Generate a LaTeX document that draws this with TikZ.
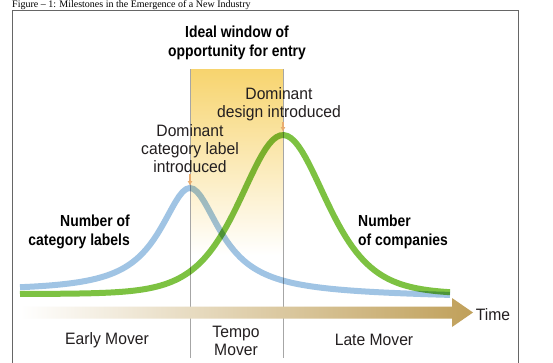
\documentclass[tikz,border=0pt]{standalone}
\usepackage{fontspec}
\setmainfont{Liberation Sans}
\newfontfamily\capfont{Liberation Serif}
\newfontfamily\condfont[FakeStretch=0.95]{Liberation Sans}
\newfontfamily\condbold[FakeStretch=0.87]{Liberation Sans}
\usepackage{tikz}
\usetikzlibrary{arrows.meta}
\definecolor{catblue}{RGB}{160,196,228}
\definecolor{compgreen}{RGB}{125,194,66}
\definecolor{windowgold}{RGB}{247,212,110}
\definecolor{timetan}{RGB}{192,160,90}
\definecolor{peakorange}{RGB}{232,172,112}
\definecolor{inkgray}{RGB}{35,31,32}

\begin{document}
\begin{tikzpicture}[x=1pt, y=-1pt,
  lbl/.style={font=\condfont\fontsize{16.5}{18}\selectfont, text=inkgray, align=center, inner sep=1pt},
  boldlbl/.style={font=\condbold\bfseries\fontsize{16}{19}\selectfont, text=black, inner sep=1pt},
  curve/.style={line width=6pt},
  peakarrow/.style={-{Latex[length=5pt,width=5pt]}, peakorange, line width=1.2pt},
  divider/.style={gray!70, line width=0.6pt}]
\clip (0,0) rectangle (553,362);
\fill[white] (0,0) rectangle (553,362);

% Caption and frame
\node[font=\capfont\fontsize{10}{12}\selectfont, anchor=base west, inner sep=0pt] (caption) at (12,7.5) {Figure – 1: Milestones in the Emergence of a New Industry};
\draw[gray!80!black, line width=0.8pt] (12,10) rectangle (518,380);

% Window of opportunity
\shade[top color=windowgold, bottom color=white] (190,69) rectangle (283,255);
\draw[divider] (190,69) -- (190,358);
\draw[divider] (283,69) -- (283,358);

% Time arrow
\shade[left color=white, right color=timetan] (20,306.5) -- (452,306.5) -- (452,298) -- (473,312.5) -- (452,327) -- (452,318.5) -- (20,318.5) -- cycle;

% Curves
\begin{scope}[blend mode=multiply]
\draw[curve, catblue] plot[domain=20:450, samples=120] (\x, {292+5*(\x-20)/430 - 106/(1+((\x-190)/37)^2)});
\draw[curve, compgreen] plot[domain=20:450, samples=120] (\x, {294-159/(cosh((\x-283)/57))^2});
\end{scope}

% Peaks
\coordinate (bluepeak) at (190,186);
\coordinate (greenpeak) at (283,132);

% Labels
\node[boldlbl, align=center] (window) at (237,43) {Ideal window of\\opportunity for entry};
\node[lbl] (design) at (279,104) {Dominant\\design introduced};
\node[lbl] (catlabel) at (190,149) {Dominant\\category label\\introduced};
\node[boldlbl, align=right, anchor=east] (catcount) at (131,232) {Number of\\category labels};
\node[boldlbl, align=left, anchor=west] (compcount) at (357,232) {Number\\of companies};
\node[lbl] (time) at (493,315) {Time};
\node[lbl] (early) at (107,340) {Early Mover};
\node[lbl] (tempo) at (236,341) {Tempo\\Mover};
\node[lbl] (late) at (374,340) {Late Mover};

% Arrows
\draw[peakarrow] (catlabel.south) -- (bluepeak);
\draw[peakarrow] (design.south -| greenpeak) -- (greenpeak);

\end{tikzpicture}
\end{document}
